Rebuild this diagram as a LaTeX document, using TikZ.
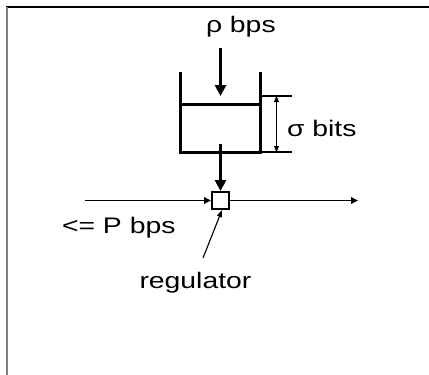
\documentclass[tikz,border=0pt]{standalone}
\usepackage{fontspec}
\setmainfont{Liberation Sans}[FakeStretch=1.26]
\usetikzlibrary{arrows.meta}
\begin{document}
\begin{tikzpicture}[x=1pt,y=-1pt,
  lbl/.style={inner sep=0pt,outer sep=0pt,anchor=base west,font=\fontsize{22.5}{24}\selectfont},
  thickline/.style={line width=3pt},
  thickarrow/.style={line width=3pt,-{Triangle[length=11pt,width=11pt]}},
  thinarrow/.style={line width=1.8pt,-{Triangle[length=7pt,width=6.5pt]}},
  dimline/.style={line width=1.1pt},
  dimarrow/.style={line width=1.1pt,{Triangle[length=6pt,width=5pt]}-{Triangle[length=6pt,width=5pt]}},
  regbox/.style={draw,line width=2pt,minimum size=17pt,inner sep=0pt}]
\useasboundingbox (0,0) rectangle (429,375);
% frame
\draw[line width=1.5pt] (6,7) -- (429,7);
\draw[line width=2pt,gray] (6.5,7) -- (6.5,375);
% texts
\node[lbl] (rho) at (206,32.3) {ρ bps};
\node[lbl] (sigma) at (287,136) {σ bits};
\node[lbl] (pbps) at (62,233) {<= P bps};
\node[lbl] (reglbl) at (139.5,288.3) {regulator};
% bucket
\coordinate (bTL) at (180,72);
\coordinate (bBL) at (180,152);
\coordinate (bBR) at (260,152);
\coordinate (bTR) at (260,72);
\draw[thickline] (bTL) -- (bBL) -- (bBR) -- (bTR);
\coordinate (wL) at (180,104);
\coordinate (wR) at (260,104);
\draw[thickline] (wL) -- (wR);
% dimension
\coordinate (d1a) at (260,96);
\coordinate (d1b) at (292,96);
\coordinate (d2a) at (260,152);
\coordinate (d2b) at (292,152);
\draw[dimline] (d1a) -- (d1b);
\draw[dimline] (d2a) -- (d2b);
\coordinate (dtop) at (276.5,96);
\coordinate (dbot) at (276.5,152);
\draw[dimarrow] (dtop) -- (dbot);
% input arrow
\coordinate (inS) at (220.5,48);
\coordinate (inE) at (220.5,96);
\draw[thickarrow] (inS) -- (inE);
% regulator
\node[regbox] (reg) at (220.5,200.5) {};
\coordinate (outS) at (220.5,144);
\draw[thickarrow] (outS) -- (reg.north);
% horizontal line
\coordinate (lin) at (85,200.5);
\coordinate (lout) at (358,200.5);
\draw[thinarrow] (lin) -- (reg.west);
\draw[thinarrow] (reg.east) -- (lout);
% pointer
\coordinate (ptr) at (203,258);
\draw[line width=1.1pt,-{Triangle[length=7pt,width=5pt]}] (ptr) -- (222,210);
\end{tikzpicture}
\end{document}
